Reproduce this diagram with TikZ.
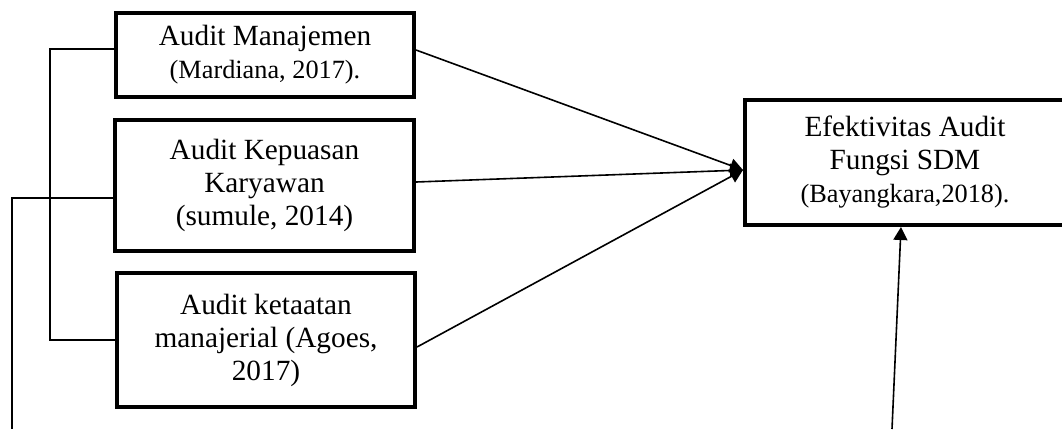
\documentclass[tikz,border=0pt]{standalone}
\usepackage{fontspec}
\setmainfont{Liberation Serif}
\usepackage{tikz}
\usetikzlibrary{arrows.meta,positioning}
\usetikzlibrary{calc}

\newcommand{\refsize}{\fontsize{26.3}{32}\selectfont}

\begin{document}
\begin{tikzpicture}[x=1pt, y=-1pt,
    box/.style={draw, line width=4pt, align=center, inner sep=0pt,
                font=\fontsize{29.3}{33}\selectfont},
    conn/.style={line width=1.6pt},
    arr/.style={line width=1.6pt, -{Triangle[length=13pt,width=14pt]}}]
          \useasboundingbox (0,0) rectangle (1062,429);
          \node[box, minimum width=298pt, minimum height=84pt] (manaj) at (265,55)
               {Audit Manajemen\\{\refsize (Mardiana, 2017).}};
          \node[box, minimum width=299pt, minimum height=131pt] (kepuasan) at (264.5,185.5)
               {Audit Kepuasan\\Karyawan\\(sumule, 2014)};
          \node[box, minimum width=298pt, minimum height=134pt] (ketaatan) at (266,340)
               {Audit ketaatan\\manajerial (Agoes,\\2017)};
          \node[box, minimum width=320pt, minimum height=125pt] (efekt) at (905,162.5)
               {Efektivitas Audit\\Fungsi SDM\\{\refsize (Bayangkara,2018).}};
          \coordinate (hit) at ($(efekt.west)+(0,7.5)$);
          \coordinate (foot) at (12,429);
          \coordinate (base) at (892,429);
          \draw[arr] ($(manaj.east)+(0,-5)$) -- (hit);
          \draw[arr] ($(kepuasan.east)+(0,-3.5)$) -- (hit);
          \draw[arr] ($(ketaatan.east)+(0,7)$) -- (hit);
          \draw[arr] (base) -- ($(efekt.south)+(-4,0)$);
          \draw[conn] ($(manaj.west)+(0,-6)$) -- ++(-64,0) |- (ketaatan.west);
          \draw[conn] ($(kepuasan.west)+(0,12.5)$) -| (foot);
        \end{tikzpicture}
\end{document}
